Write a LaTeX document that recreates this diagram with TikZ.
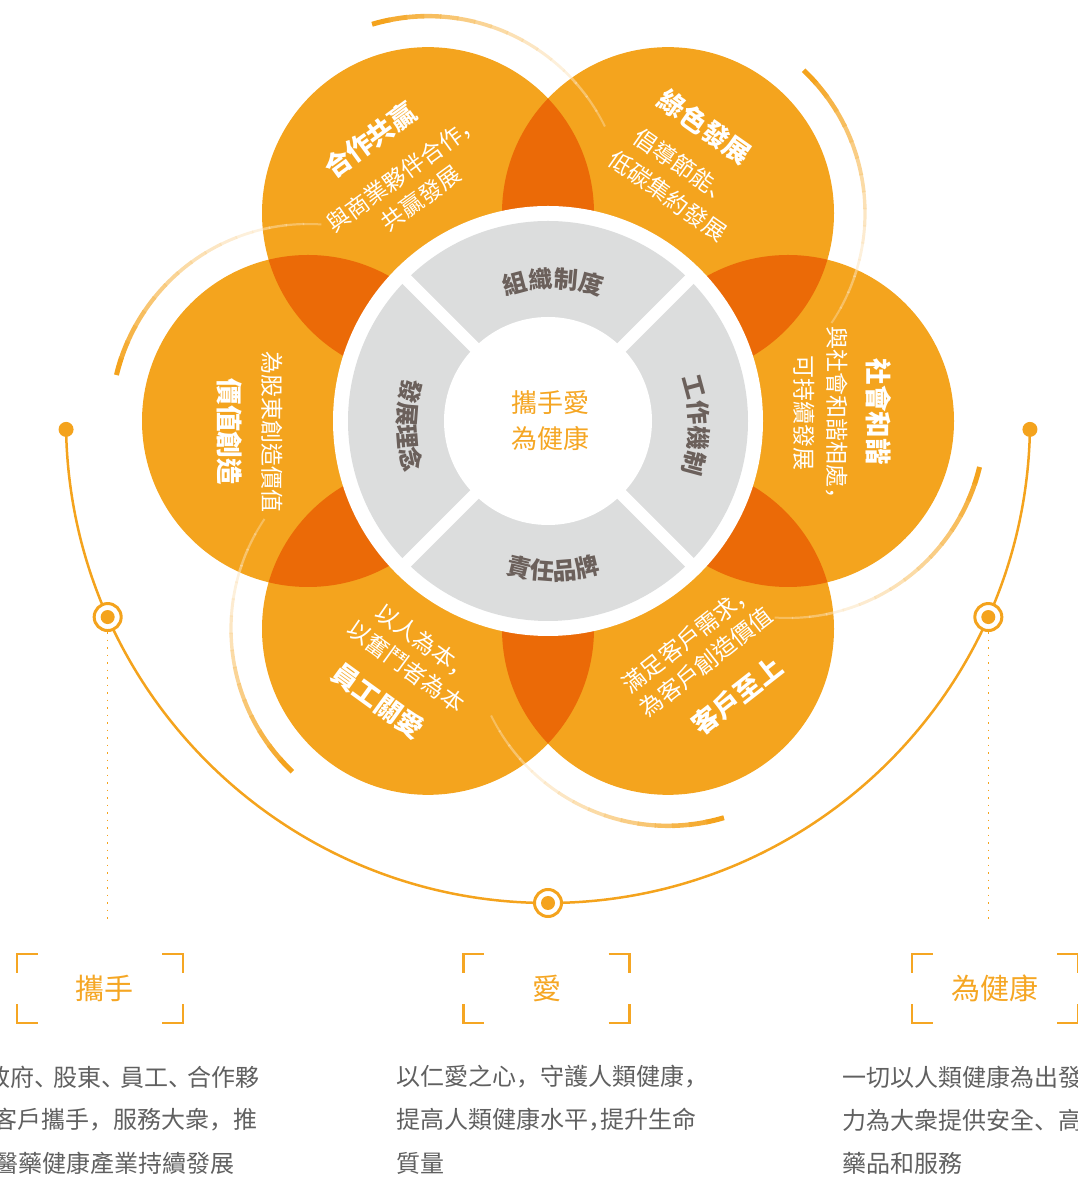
\documentclass[tikz,border=0pt]{standalone}
\usepackage{fontspec}
\newfontfamily\cjk{Noto Sans CJK TC}
\newfontfamily\cjkjp{Noto Sans CJK JP}
\newcommand\cjcomma{{\cjkjp ，}}
\newcommand\cjdun{{\cjkjp 、}}
\usetikzlibrary{decorations.text}
\definecolor{petalorange}{HTML}{F4A41E}
\definecolor{overlaporange}{HTML}{EB6A07}
\definecolor{ringgray}{HTML}{DCDDDD}
\definecolor{segtextgray}{HTML}{6B605B}
\definecolor{lineorange}{HTML}{F4A31D}
\definecolor{lightorange}{HTML}{FCE5C0}
\definecolor{bodygray}{HTML}{606060}
\definecolor{titleorange}{HTML}{F5A623}
\tikzset{
    petaltitle/.style = {
        font=\cjk\bfseries\fontsize{26.5}{30}\selectfont,
        text=white,
        inner sep=0,
    },
    petaltext/.style = {
        font=\cjk\fontsize{23}{27}\selectfont,
        text=white,
        inner sep=0,
    },
    coretext/.style = {
        font=\cjk\fontsize{26}{36}\selectfont,
        text=titleorange,
        align=center,
        inner sep=0,
    },
    segtext/.style = {
        decorate,
        decoration={
            text along path,
            text align=center,
            text={|\cjk\bfseries\fontsize{24}{24}\selectfont\color{segtextgray}|#1},
        },
    },
    frametitle/.style = {
        font=\cjk\fontsize{29}{32}\selectfont,
        text=titleorange,
        minimum width=166,
        minimum height=69,
        inner sep=0,
    },
    bracket/.style = {
        draw=titleorange,
        line width=2.5,
    },
    bodytext/.style = {
        font=\cjk\fontsize{24}{28}\selectfont,
        text=bodygray,
        anchor=west,
        inner sep=0,
    },
    bigline/.style = {
        draw=lineorange,
        line width=2.5,
    },
    enddot/.style = {
        circle,
        fill=lineorange,
        minimum size=15,
        inner sep=0,
    },
    ringdot/.style = {
        circle,
        draw=lineorange,
        line width=3,
        fill=white,
        minimum size=27,
        inner sep=0,
        path picture={\fill[lineorange] (path picture bounding box.center) circle (7);},
    },
    dotline/.style = {
        draw=lineorange,
        line width=1.5,
        dash pattern=on 1.5pt off 6pt,
    },
}

\begin{document}
\begin{tikzpicture}[x=1pt, y=1pt]
        \useasboundingbox (0,0) rectangle (1077,1178);
        \coordinate (C) at (548,757);

        % petals
        \foreach \a in {0,60,...,300}
            \fill[petalorange] ([shift={(\a:240)}]C) circle (166);
        \foreach \a in {0,60,...,300} {
            \begin{scope}
                \clip ([shift={(\a:240)}]C) circle (166);
                \fill[overlaporange] ([shift={(\a+60:240)}]C) circle (166);
            \end{scope}
        }

        % fading arcs
        \foreach \a in {0,60,...,300}
            \foreach \i in {0,...,15} {
                \pgfmathsetmacro\s{\a-13.5-5*\i}
                \pgfmathsetmacro\w{5-0.2*\i}
                \pgfmathtruncatemacro\k{max(0,100-9*\i)}
                \pgfmathsetmacro\o{1-0.04*\i}
                \draw[line width=\w, draw=lineorange!\k!lightorange, draw opacity=\o]
                    ([shift={(\a:240)}, shift={(\s:197)}]C) arc[start angle=\s, end angle=\s-5.4, radius=197];
            }

        % ring
        \fill[white] (C) circle (215);
        \fill[ringgray] (C) circle (200);
        \foreach \a in {45,135,225,315}
            \draw[white, line width=12] (C) -- ++(\a:202);
        \fill[white] (C) circle (104);

        \coordinate (L) at (553,753);
        \path[segtext={組織制度}] ([shift={(130:137)}]L) arc[start angle=130, end angle=50, radius=137];
        \path[segtext={工作機制}] ([shift={(40:137)}]L) arc[start angle=40, end angle=-40, radius=137];
        \path[segtext={責任品牌}] ([shift={(220:155)}]L) arc[start angle=220, end angle=320, radius=155];
        \path[segtext={發展理念}] ([shift={(140:155)}]L) arc[start angle=140, end angle=220, radius=155];

        \node(core) [coretext] at (550,757) {攜手愛\\為健康};

        % petal texts
        \node(coopT) [petaltitle, rotate=36] at (370,1038) {合作共贏};
        \node(coopA) [petaltext, rotate=36] at (404,1005) {與商業夥伴合作\cjcomma};
        \node(coopB) [petaltext, rotate=36] at (421,980) {共贏發展};

        \node(greenT) [petaltitle, rotate=-35] at (705,1051) {綠色發展};
        \node(greenA) [petaltext, rotate=-35] at (684,1011) {倡導節能\cjdun};
        \node(greenB) [petaltext, rotate=-35] at (668,982) {低碳集約發展};

        \node(valueA) [petaltext, rotate=-90] at (272,746) {為股東創造價值};
        \node(valueT) [petaltitle, rotate=-90] at (230,746) {價值創造};

        \node(socT) [petaltitle, rotate=-90] at (879,766) {社會和諧};
        \node(socA) [petaltext, rotate=-90] at (837,759) {與社會和諧相處\cjcomma};
        \node(socB) [petaltext, rotate=-90] at (804,765) {可持續發展};

        \node(staffA) [petaltext, rotate=-36] at (425,535) {以人為本\cjcomma};
        \node(staffB) [petaltext, rotate=-36] at (406,512) {以奮鬥者為本};
        \node(staffT) [petaltitle, rotate=-36] at (378,477) {員工關愛};

        \node(custA) [petaltext, rotate=38] at (689,540) {滿足客戶需求\cjcomma};
        \node(custB) [petaltext, rotate=38] at (706,516) {為客戶創造價值};
        \node(custT) [petaltitle, rotate=38] at (737,482) {客戶至上};

        % lower arc
        \coordinate (arcL) at ([shift={(181:482)}]C);
        \coordinate (arcR) at ([shift={(359:482)}]C);
        \draw [bigline] (arcL) arc[start angle=181, end angle=359, radius=482];
        \node(dotL) [enddot] at (arcL) {};
        \node(dotR) [enddot] at (arcR) {};
        \node(ringL) [ringdot] at ([shift={(204:482)}]C) {};
        \node(ringM) [ringdot] at ([shift={(270:482)}]C) {};
        \node(ringR) [ringdot] at ([shift={(336:482)}]C) {};
        \draw [dotline] (ringL.south) -- (ringL.south |- 0,258);
        \draw [dotline] (ringR.south) -- (ringR.south |- 0,258);

        % bottom blocks
        \node(hand) [frametitle] at (100,189.5) {\hspace*{8pt}攜手};
        \node(love) [frametitle] at (546.5,189.5) {愛};
        \node(health) [frametitle] at (995,189.5) {為健康};
        \foreach \n in {hand,love,health} {
            \draw [bracket] ([yshift=-19]\n.north west) |- ([xshift=21]\n.north west);
            \draw [bracket] ([xshift=-21]\n.north east) -| ([yshift=-19]\n.north east);
            \draw [bracket] ([yshift=19]\n.south west) |- ([xshift=21]\n.south west);
            \draw [bracket] ([xshift=-21]\n.south east) -| ([yshift=19]\n.south east);
        }

        \node(handA) [bodytext] at (-14,101) {政府\cjdun\kern-5pt股東\cjdun\kern-5pt員工\cjdun\kern-5pt合作夥};
        \node(handB) [bodytext] at (-7,58) {客戶攜手\cjcomma 服務大衆\cjcomma 推};
        \node(handC) [bodytext] at (-6,15) {醫藥健康產業持續發展};

        \node(loveA) [bodytext] at (396,101) {以仁愛之心\cjcomma 守護人類健康\cjcomma};
        \node(loveB) [bodytext] at (396,58) {提高人類健康水平\cjcomma\kern-12pt 提升生命};
        \node(loveC) [bodytext] at (396,15) {質量};

        \node(healthA) [bodytext] at (842,101) {一切以人類健康為出發};
        \node(healthB) [bodytext] at (842,58) {力為大衆提供安全\cjdun 高};
        \node(healthC) [bodytext] at (842,15) {藥品和服務};

    \end{tikzpicture}
\end{document}
